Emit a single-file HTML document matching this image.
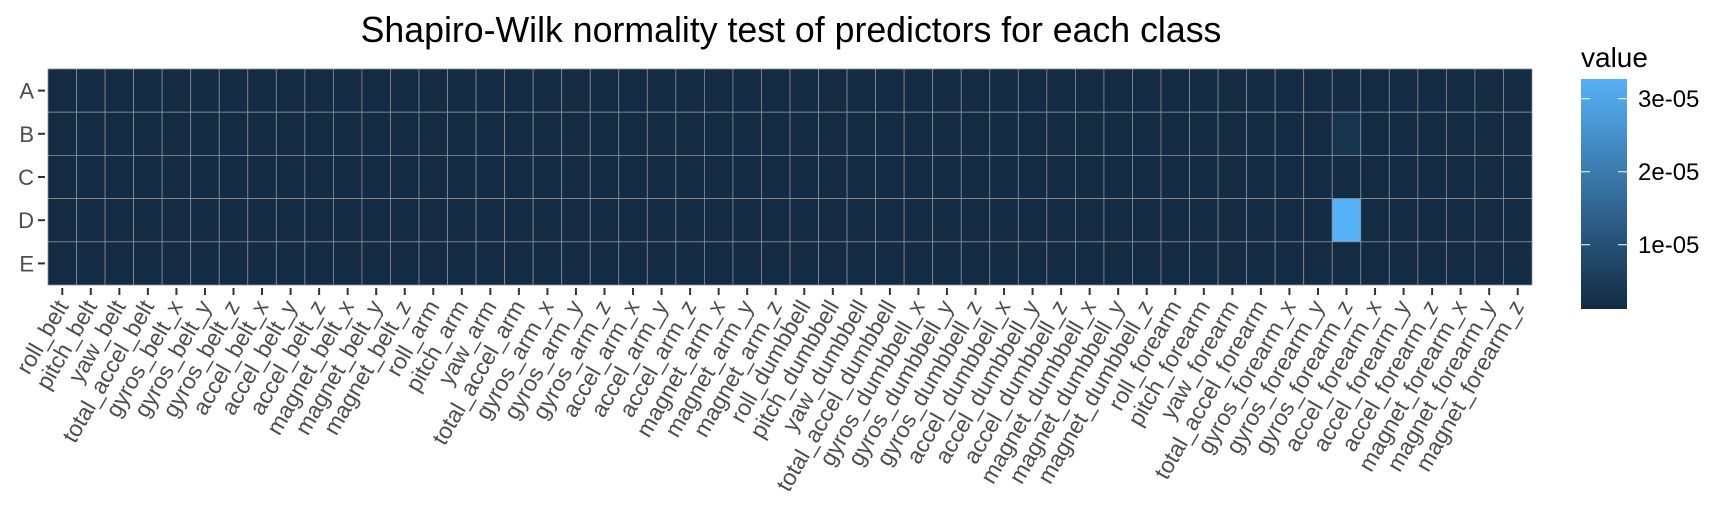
<!DOCTYPE html>
<html><head><meta charset="utf-8"><style>
html,body{margin:0;padding:0;background:#fff;width:1728px;height:518px;overflow:hidden}
svg text{font-family:"Liberation Sans",sans-serif}
</style></head><body>
<svg id="chart" width="1728" height="518" viewBox="0 0 1728 518">
<defs><linearGradient id="lg" x1="0" y1="1" x2="0" y2="0"><stop offset="0" stop-color="#132B43"/><stop offset="1" stop-color="#56B1F7"/></linearGradient></defs>
<text x="791" y="42" font-size="35.7" text-anchor="middle" fill="#000">Shapiro-Wilk normality test of predictors for each class</text>
<g id="cells"></g><g id="xaxis"></g><g id="yaxis"></g>
<g>
<text x="1581" y="67" font-size="28" fill="#000">value</text>
<rect x="1581" y="79" width="46" height="230" fill="url(#lg)"/>
<g id="legticks"></g>
</g>
</svg>
<script>
const categories = ["roll_belt","pitch_belt","yaw_belt","total_accel_belt","gyros_belt_x","gyros_belt_y","gyros_belt_z","accel_belt_x","accel_belt_y","accel_belt_z","magnet_belt_x","magnet_belt_y","magnet_belt_z","roll_arm","pitch_arm","yaw_arm","total_accel_arm","gyros_arm_x","gyros_arm_y","gyros_arm_z","accel_arm_x","accel_arm_y","accel_arm_z","magnet_arm_x","magnet_arm_y","magnet_arm_z","roll_dumbbell","pitch_dumbbell","yaw_dumbbell","total_accel_dumbbell","gyros_dumbbell_x","gyros_dumbbell_y","gyros_dumbbell_z","accel_dumbbell_x","accel_dumbbell_y","accel_dumbbell_z","magnet_dumbbell_x","magnet_dumbbell_y","magnet_dumbbell_z","roll_forearm","pitch_forearm","yaw_forearm","total_accel_forearm","gyros_forearm_x","gyros_forearm_y","gyros_forearm_z","accel_forearm_x","accel_forearm_y","accel_forearm_z","magnet_forearm_x","magnet_forearm_y","magnet_forearm_z"];
const classes = ["A","B","C","D","E"];
const baseValue = 1.2e-6;
// special cells: [class, predictor, value]
const specialCells = [["B","gyros_forearm_z",3.5e-6],["D","gyros_forearm_z",3.27e-5]];
const legendTicks = [1e-5,2e-5,3e-5];
const legendLabels = ["1e-05","2e-05","3e-05"];

const NS="http://www.w3.org/2000/svg";
const px0=48,px1=1532,py0=69,py1=285;
const vmin=1.2e-6,vmax=3.27e-5;
const cw=(px1-px0)/categories.length, ch=(py1-py0)/classes.length;
const xs=i=>px0+i*cw, ys=j=>py0+j*ch;
function col(v){const t=Math.max(0,Math.min(1,(v-vmin)/(vmax-vmin)));
const a=[0x13,0x2B,0x43],b=[0x56,0xB1,0xF7];
return "rgb("+a.map((c,k)=>Math.round(c+(b[k]-c)*t)).join(",")+")";}
function mk(t,at,p){const e=document.createElementNS(NS,t);for(const k in at)e.setAttribute(k,at[k]);p.appendChild(e);return e;}
const cells=document.getElementById('cells');
const bg=mk('rect',{x:px0,y:py0,width:px1-px0,height:py1-py0,fill:'#EBEBEB'},cells);


classes.forEach((c,j)=>categories.forEach((p,i)=>{
 let v=baseValue; specialCells.forEach(s=>{if(s[0]===c&&s[1]===p)v=s[2];});
 const r=mk('rect',{x:xs(i),y:ys(j),width:cw,height:ch,fill:col(v),stroke:'#8a8f96','stroke-width':0.8},cells);
 
 
}));
const xa=document.getElementById('xaxis');
categories.forEach((p,i)=>{
 const cx=xs(i)+cw/2;
 const tk=mk('line',{x1:cx,x2:cx,y1:py1+3,y2:py1+10,stroke:'#333','stroke-width':2},xa);
 
 
 const t=mk('text',{x:cx+7,y:py1+21,'font-size':23,fill:'#4D4D4D','text-anchor':'end',transform:'rotate(-60 '+(cx+7)+' '+(py1+21)+')'},xa);
 t.textContent=p;
 
 
});
const ya=document.getElementById('yaxis');
classes.forEach((c,j)=>{
 const cy=ys(j)+ch/2;
 const tk=mk('line',{x1:px0-10,x2:px0-3,y1:cy,y2:cy,stroke:'#333','stroke-width':2},ya);
 
 
 const t=mk('text',{x:px0-14,y:cy+8,'font-size':22,fill:'#4D4D4D','text-anchor':'end'},ya);
 t.textContent=c;
 
 
});
const lt=document.getElementById('legticks');
const ly=v=>309-(v-vmin)/(vmax-vmin)*230;
legendTicks.forEach((v,k)=>{
 const y=ly(v);
 mk('line',{x1:1581,x2:1590,y1:y,y2:y,stroke:'#fff','stroke-width':1},lt);
 mk('line',{x1:1618,x2:1627,y1:y,y2:y,stroke:'#fff','stroke-width':1},lt);
 const t=mk('text',{x:1638,y:y+8.5,'font-size':24,fill:'#000'},lt);
 t.textContent=legendLabels[k];
 
 
});
</script>
</body></html>
